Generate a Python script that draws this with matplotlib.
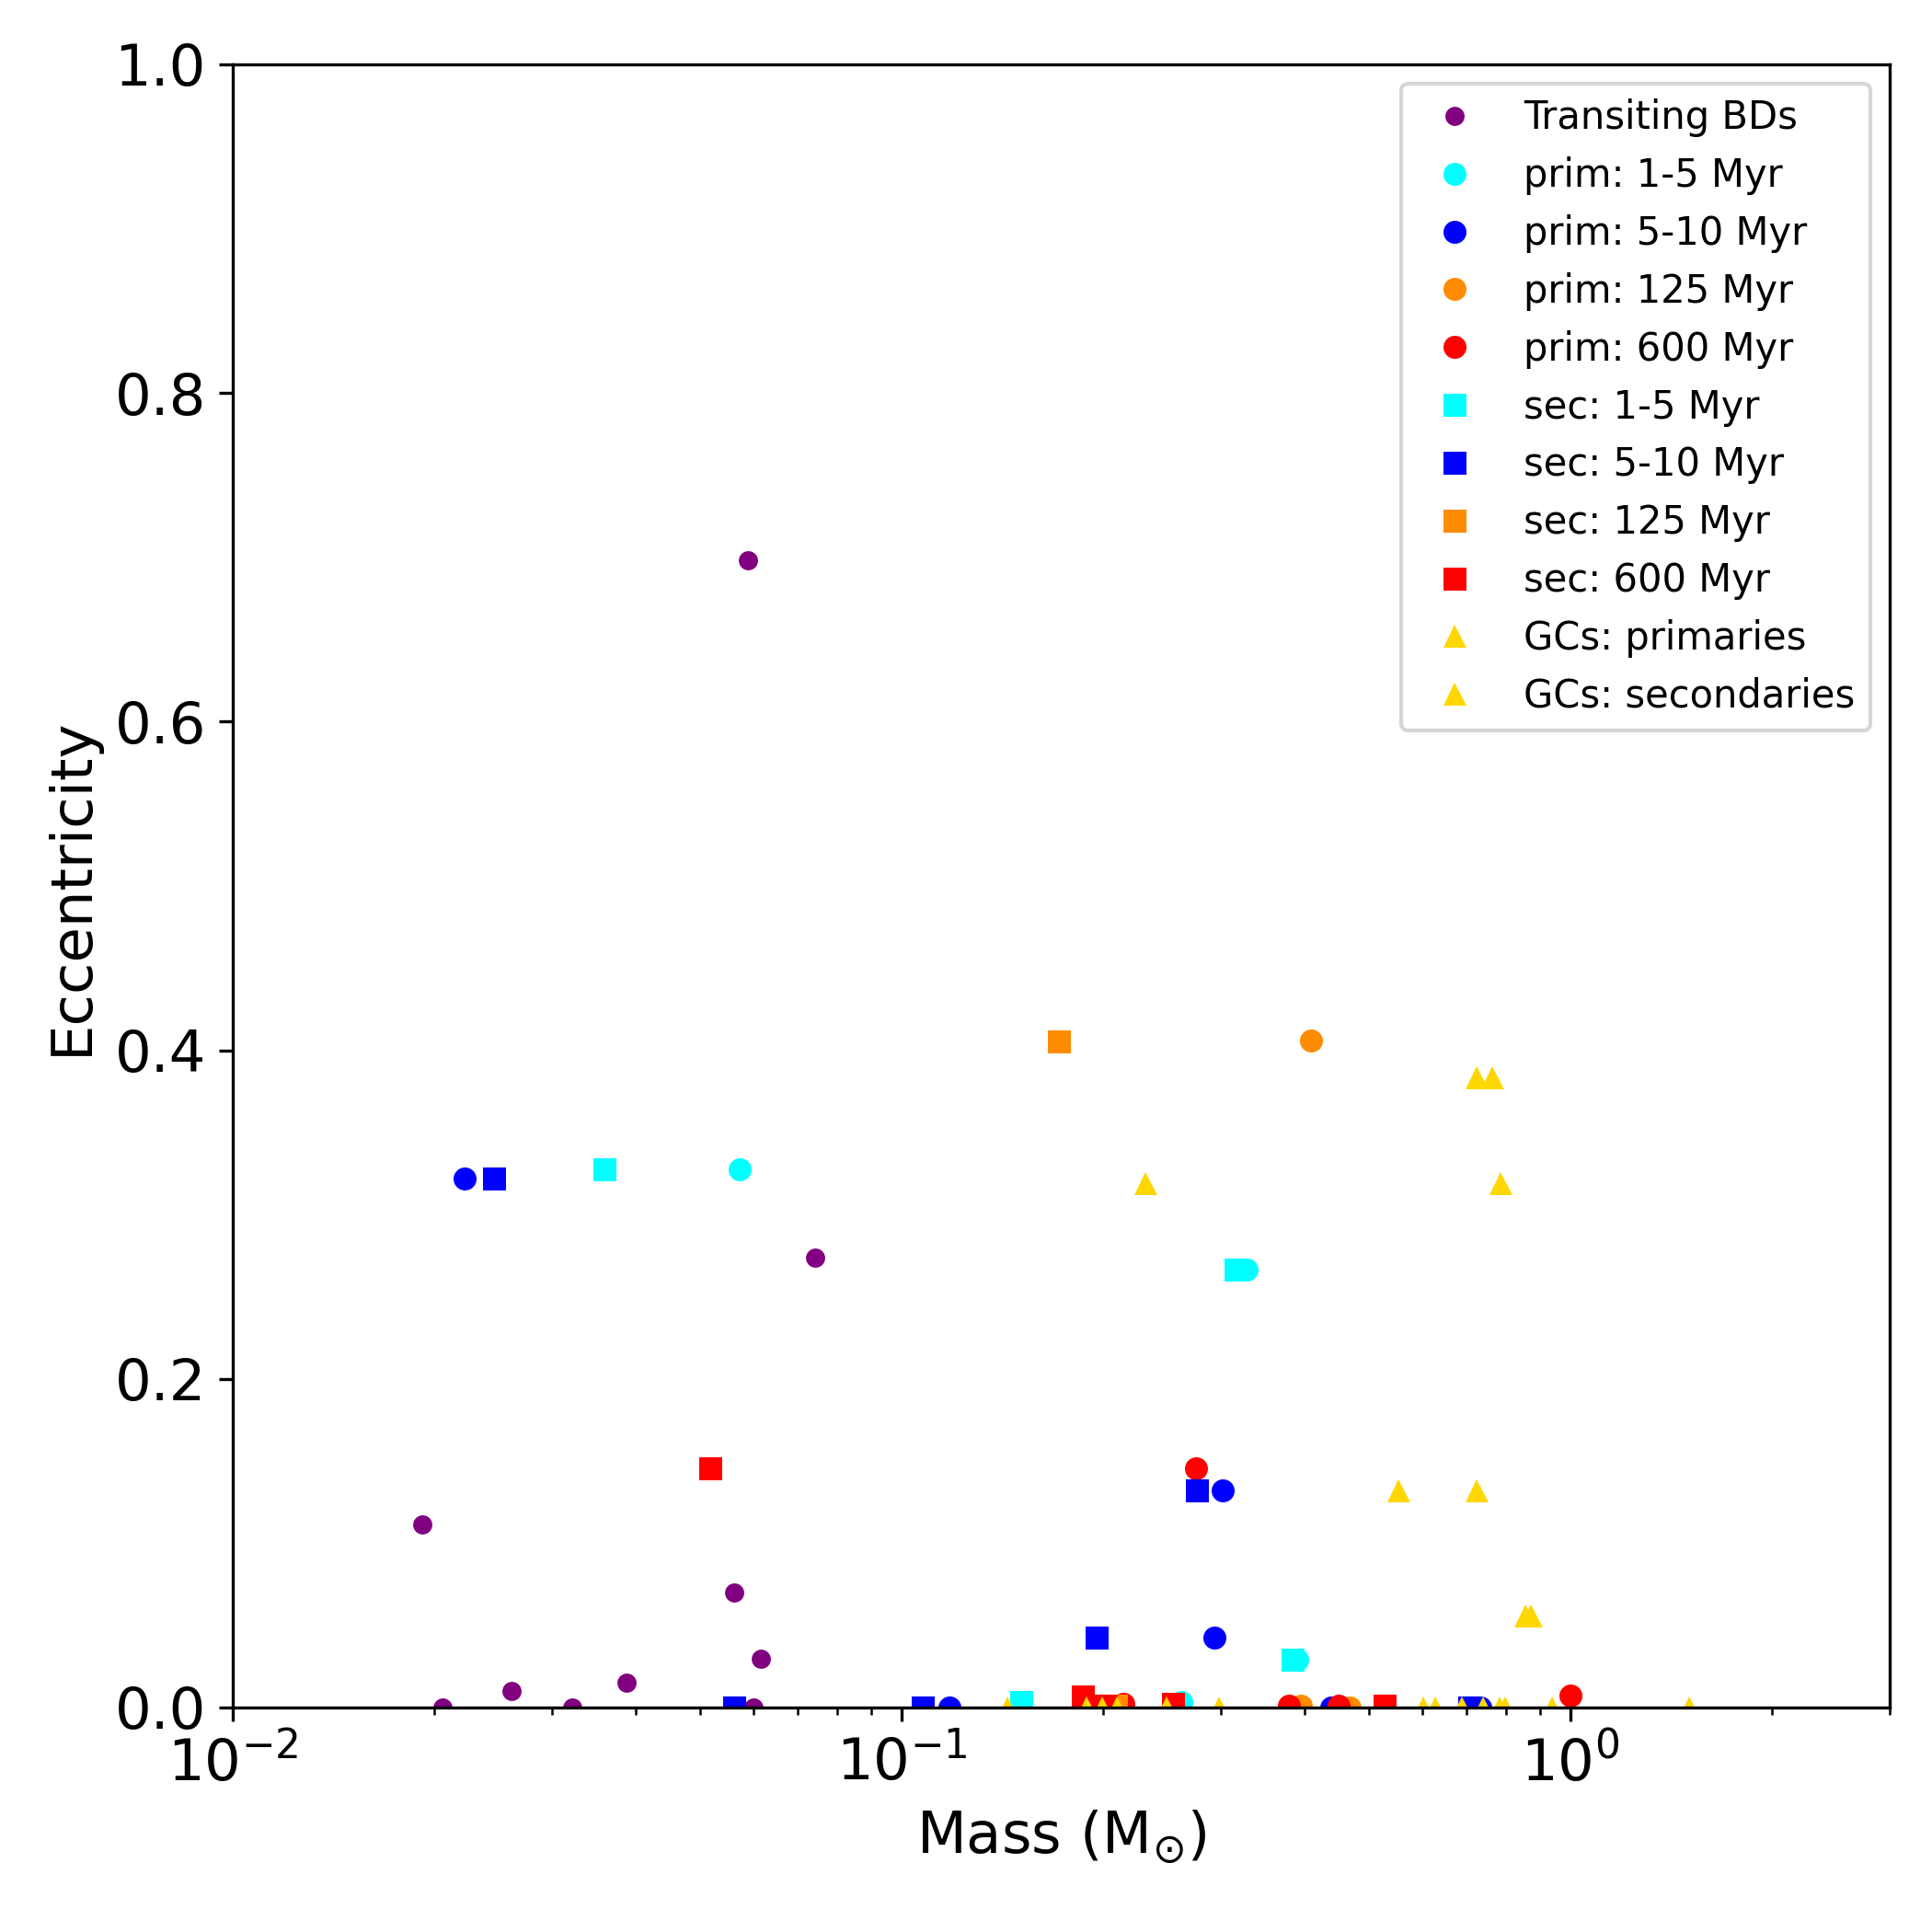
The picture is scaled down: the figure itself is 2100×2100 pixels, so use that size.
import numpy as np
import matplotlib
matplotlib.use("Agg")
import matplotlib.pyplot as plt

# transiting brown dwarfs
bd_mass = [0.0590, 0.0743, 0.0192, 0.0562, 0.0615, 0.0261, 0.0388, 0.0206, 0.0322, 0.0601]
bd_ecc = [0.698, 0.274, 0.1116, 0.0697, 0.0297, 0.010, 0.015, 0.0, 0.0, 0.0]

# primaries
p15_mass = [0.0572, 0.3277, 0.3906, 0.262]
p15_ecc = [0.3274, 0.2666, 0.0293, 0.0034]
p510_mass = [0.0222, 0.302, 0.2937, 0.1179, 0.4385, 0.733]
p510_ecc = [0.322, 0.1322, 0.0424, 0.0, 0.0, 0.0]
p125_mass = [0.409, 0.395, 0.468]
p125_ecc = [0.4059, 0.0013, 0.0]
p600_mass = [0.2754, 0.2147, 0.380, 0.4497, 1.0]
p600_ecc = [0.1457, 0.002, 0.0013, 0.001, 0.0071]

# secondaries
s15_mass = [0.0360, 0.3156, 0.384, 0.151]
s15_ecc = [0.3274, 0.2666, 0.0293, 0.0036]
s510_mass = [0.02456, 0.2762, 0.1957, 0.0561, 0.1074, 0.707]
s510_ecc = [0.322, 0.1322, 0.0424, 0.0, 0.0, 0.0]
s125_mass = [0.1720, 0.2094]
s125_ecc = [0.4054, 0.0013]
s600_mass = [0.0517, 0.1867, 0.2018, 0.2545, 0.528]
s600_ecc = [0.1457, 0.0069, 0.0013, 0.002, 0.001]

# giant companions
gcp_mass = [0.7244, 0.787, 0.7248, 0.873, 0.6026, 0.6285, 0.6876, 0.7413, 0.7835, 0.7993, 0.940, 1.507]
gcp_ecc = [0.3837, 0.3192, 0.1324, 0.0558, 0, 0, 0, 0, 0, 0, 0, 0]
gcs_mass = [0.765, 0.2314, 0.554, 0.8564, 0.1439, 0.1893, 0.1995, 0.2096, 0.2491, 0.2985]
gcs_ecc = [0.3837, 0.3192, 0.1324, 0.0558, 0, 0, 0, 0, 0, 0]

fig = plt.figure(figsize=(7, 7), dpi=300)
ax = fig.add_axes([0.1205, 0.1162, 0.8575, 0.8505])

ms = 6
ax.plot(bd_mass, bd_ecc, "o", color="purple", ms=5, mew=0, label="Transiting BDs")
ax.plot(p15_mass, p15_ecc, "o", color="cyan", ms=ms, mew=0, label="prim: 1-5 Myr")
ax.plot(p510_mass, p510_ecc, "o", color="blue", ms=ms, mew=0, label="prim: 5-10 Myr")
ax.plot(p125_mass, p125_ecc, "o", color="darkorange", ms=ms, mew=0, label="prim: 125 Myr")
ax.plot(p600_mass, p600_ecc, "o", color="red", ms=ms, mew=0, label="prim: 600 Myr")
ax.plot(s15_mass, s15_ecc, "s", color="cyan", ms=ms, mew=0, label="sec: 1-5 Myr")
ax.plot(s510_mass, s510_ecc, "s", color="blue", ms=ms, mew=0, label="sec: 5-10 Myr")
ax.plot(s125_mass, s125_ecc, "s", color="darkorange", ms=ms, mew=0, label="sec: 125 Myr")
ax.plot(s600_mass, s600_ecc, "s", color="red", ms=ms, mew=0, label="sec: 600 Myr")
ax.plot(gcp_mass, gcp_ecc, "^", color="gold", ms=ms, mew=0, label="GCs: primaries")
ax.plot(gcs_mass, gcs_ecc, "^", color="gold", ms=ms, mew=0, label="GCs: secondaries")

ax.set_xscale("log")
ax.set_xlim(0.01, 3)
ax.set_ylim(0, 1)
ax.set_xlabel(r"Mass (M$_{\odot}$)", fontsize=15)
ax.set_ylabel("Eccentricity", fontsize=15)
ax.tick_params(labelsize=15)
ax.legend(loc="upper right", fontsize=10)

fig.savefig("out.png", dpi=300)
